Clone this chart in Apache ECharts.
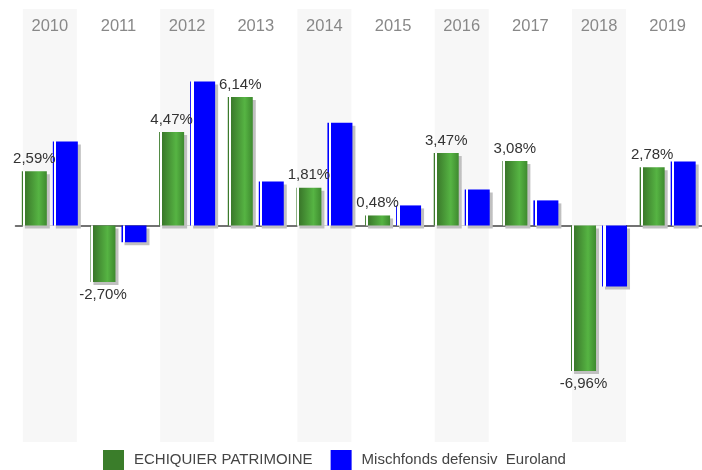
<!DOCTYPE html>
<html>
<head>
<meta charset="utf-8">
<script src="https://cdn.jsdelivr.net/npm/echarts@6/dist/echarts.min.js"></script>
<style>
    html, body { margin: 0; padding: 0; background: #fff; }
    #chart { width: 702px; height: 470px; }
</style>
</head>
<body>
<div id="chart"></div>
<script>
// 年份（类目）
const years = ['2010', '2011', '2012', '2013', '2014', '2015', '2016', '2017', '2018', '2019'];
// 基金收益 (%)
const fundValues = [2.59, -2.70, 4.47, 6.14, 1.81, 0.48, 3.47, 3.08, -6.96, 2.78];
// 同类平均 (%)
const peerValues = [4.02, -0.80, 6.89, 2.10, 4.91, 0.96, 1.72, 1.20, -2.92, 3.06];
// 系列名称
const seriesNames = ['ECHIQUIER PATRIMOINE', 'Mischfonds defensiv  Euroland'];
// y轴范围
const yMax = 10.35;
const yMin = -10.35;

const FONT = 'Liberation Sans, Arial, sans-serif';

// 隔年的浅灰背景条
const bandUp = years.map((y, i) => (i % 2 === 0 ? yMax : '-'));
const bandDown = years.map((y, i) => (i % 2 === 0 ? yMin : '-'));

// 柱子左侧的白色细条 + 渐变
const greenFill = new echarts.graphic.LinearGradient(0, 0, 1, 0, [
    { offset: 0, color: '#3b7a2b' },
    { offset: 0.04, color: '#3b7a2b' },
    { offset: 0.04, color: '#ffffff' },
    { offset: 0.12, color: '#ffffff' },
    { offset: 0.12, color: '#3a782a' },
    { offset: 0.68, color: '#56b443' },
    { offset: 1, color: '#3e8a2f' }
]);
const blueFill = new echarts.graphic.LinearGradient(0, 0, 1, 0, [
    { offset: 0, color: '#0000ff' },
    { offset: 0.05, color: '#0000ff' },
    { offset: 0.05, color: '#ffffff' },
    { offset: 0.14, color: '#ffffff' },
    { offset: 0.14, color: '#0000ff' },
    { offset: 1, color: '#0000ff' }
]);

const fmt = (v) => v.toFixed(2).replace('.', ',') + '%';

const myChart = echarts.init(document.getElementById('chart'), null, { renderer: 'canvas' });

const shadow = {
    shadowColor: '#c0c0c0',
    shadowBlur: 0,
    shadowOffsetX: 3,
    shadowOffsetY: 3
};

const options = {
    animation: false,
    textStyle: { fontFamily: FONT },
    grid: { left: 15.5, right: -2.5, top: 9, bottom: 28 },
    legend: {
        bottom: 0,
        left: 103,
        padding: 0,
        itemWidth: 21,
        itemHeight: 20,
        itemGap: 18,
        icon: 'rect',
        data: [
            { name: seriesNames[0], itemStyle: { color: '#3a7d2a' } },
            { name: seriesNames[1], itemStyle: { color: '#0000ff' } }
        ],
        textStyle: { color: '#444', fontSize: 15, fontFamily: FONT, padding: [0, 0, 0, 5] }
    },
    xAxis: [
        {
            type: 'category',
            data: years,
            position: 'bottom',
            axisLine: { show: true, onZero: true, lineStyle: { color: '#444', width: 1.5 } },
            axisTick: { show: false },
            axisLabel: { show: false }
        },
        {
            type: 'category',
            data: years,
            position: 'top',
            axisLine: { show: false, onZero: false },
            axisTick: { show: false },
            axisLabel: {
                inside: true,
                margin: 9,
                color: '#888',
                fontSize: 16.5,
                fontFamily: FONT
            }
        }
    ],
    yAxis: {
        type: 'value',
        min: yMin,
        max: yMax,
        show: false,
        splitLine: { show: false }
    },
    series: [
        // 背景条
        {
            type: 'bar',
            xAxisIndex: 1,
            stack: 'band',
            barWidth: 54,
            silent: true,
            z: 0,
            itemStyle: { color: '#f7f7f7' },
            data: bandUp
        },
        {
            type: 'bar',
            xAxisIndex: 1,
            stack: 'band',
            barWidth: 54,
            silent: true,
            z: 0,
            itemStyle: { color: '#f7f7f7' },
            data: bandDown
        },
        {
            name: seriesNames[0],
            type: 'bar',
            xAxisIndex: 0,
            barWidth: 25,
            barGap: '24%',
            itemStyle: Object.assign({ color: greenFill }, shadow),
            label: {
                show: true,
                distance: 5,
                color: '#333',
                fontSize: 15,
                fontFamily: FONT,
                formatter: (p) => fmt(p.value)
            },
            data: fundValues.map((v) => ({
                value: v,
                label: { position: v >= 0 ? 'top' : 'bottom' }
            }))
        },
        {
            name: seriesNames[1],
            type: 'bar',
            xAxisIndex: 0,
            barWidth: 25,
            barGap: '24%',
            itemStyle: Object.assign({ color: blueFill }, shadow),
            data: peerValues
        }
    ]
};

myChart.setOption(options);
</script>
</body>
</html>
